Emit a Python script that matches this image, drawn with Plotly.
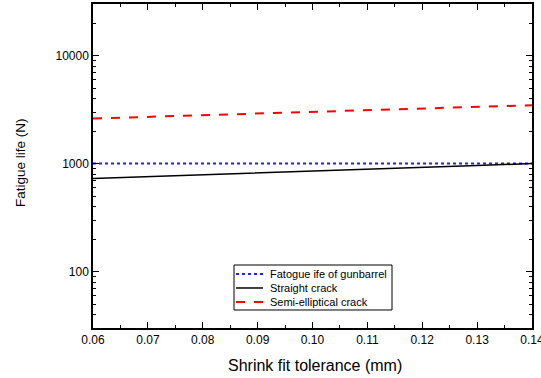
import plotly.graph_objects as go
import numpy as np

tolerance = [0.06, 0.07, 0.08, 0.09, 0.10, 0.11, 0.12, 0.13, 0.14]
gunbarrel_life = [1000, 1000, 1000, 1000, 1000, 1000, 1000, 1000, 1000]
straight_crack = [727, 755, 785, 815, 847, 880, 915, 958, 1000]
semi_elliptical = [2610, 2700, 2800, 2890, 2990, 3100, 3220, 3340, 3470]

series_names = ["Fatogue ife of gunbarrel", "Straight crack", "Semi-elliptical crack"]
series_colors = ["#1f1fff", "black", "#ff0000"]
series_dashes = ["dot", "solid", "dash"]
series_widths = [2, 1.5, 2]

x_ticks = [0.06, 0.07, 0.08, 0.09, 0.10, 0.11, 0.12, 0.13, 0.14]
x_tick_labels = ["0.06", "0.07", "0.08", "0.09", "0.10", "0.11", "0.12", "0.13", "0.14"]
y_ticks = [100, 1000, 10000]
y_tick_labels = ["100", "1000", "10000"]
x_title = "Shrink fit tolerance (mm)"
y_title = "Fatigue life (N)"

FONT = "Liberation Sans, Arial"

fig = go.Figure()
for name, vals, col, dash, w in zip(series_names,
                                    [gunbarrel_life, straight_crack, semi_elliptical],
                                    series_colors, series_dashes, series_widths):
    fig.add_trace(go.Scatter(x=tolerance, y=vals, mode="lines", name=name,
                             line=dict(color=col, width=w, dash=dash),
                             showlegend=False))

axis_common = dict(showline=True, linecolor="black", linewidth=1.5, mirror="ticks",
                   ticks="inside", tickcolor="black", showgrid=False, zeroline=False,
                   automargin=False,
                   tickfont=dict(family=FONT, size=12, color="black"))

fig.update_xaxes(range=[0.06, 0.14], tickvals=x_ticks, ticktext=x_tick_labels,
                 ticklen=6, tickwidth=1, ticklabeloverflow="allow",
                 minor=dict(ticks="inside", ticklen=3, dtick=0.005, tickcolor="black"),
                 **axis_common)
fig.update_yaxes(type="log", range=[np.log10(30), np.log10(30000)],
                 tickvals=y_ticks, ticktext=y_tick_labels, ticklen=6, tickwidth=1,
                 minor=dict(ticks="inside", ticklen=3, tickcolor="black",
                            tickvals=[30, 40, 50, 60, 70, 80, 90, 200, 300, 400, 500, 600, 700, 800, 900,
                                      2000, 3000, 4000, 5000, 6000, 7000, 8000, 9000, 20000, 30000]),
                 **axis_common)

# Custom compact legend (paper coordinates relative to the plot area)
box_x0, box_x1, box_y0, box_y1 = 0.3212, 0.6811, 0.0556, 0.1944
sample_x0, sample_x1, text_x = 0.3257, 0.3872, 0.3986
row_y = [0.1667, 0.1235, 0.0802]
shapes = [dict(type="rect", xref="paper", yref="paper", x0=box_x0, x1=box_x1,
               y0=box_y0, y1=box_y1, line=dict(color="black", width=1), fillcolor="white",
               layer="above")]
annotations = []
for name, col, dash, w, yy in zip(series_names, series_colors, series_dashes, series_widths, row_y):
    shapes.append(dict(type="line", xref="paper", yref="paper", x0=sample_x0, x1=sample_x1,
                       y0=yy, y1=yy, line=dict(color=col, width=w, dash=dash), layer="above"))
    annotations.append(dict(xref="paper", yref="paper", x=text_x, y=yy, text=name,
                            showarrow=False, xanchor="left", yanchor="middle",
                            font=dict(family=FONT, size=11, color="black")))

# Axis titles
annotations.append(dict(xref="paper", yref="paper", x=0.5046, y=-0.1142, text=x_title,
                        showarrow=False, xanchor="center", yanchor="middle",
                        font=dict(family=FONT, size=16, color="black")))
annotations.append(dict(xref="paper", yref="paper", x=-0.1663, y=0.512, text=y_title,
                        showarrow=False, xanchor="center", yanchor="middle", textangle=-90,
                        font=dict(family=FONT, size=13.5, color="black")))

fig.update_layout(
    width=541, height=378,
    margin=dict(l=93, r=9, t=4, b=50),
    plot_bgcolor="white", paper_bgcolor="white",
    showlegend=False,
    shapes=shapes, annotations=annotations,
)

fig.write_html("out.html")
